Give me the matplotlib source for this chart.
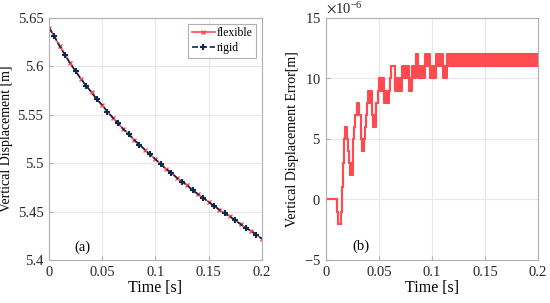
import numpy as np
import matplotlib
matplotlib.use('Agg')
import matplotlib.pyplot as plt

# time axis for panel (a), every 0.005 s
t_disp = [0.000, 0.005, 0.010, 0.015, 0.020, 0.025, 0.030, 0.035, 0.040, 0.045,
          0.050, 0.055, 0.060, 0.065, 0.070, 0.075, 0.080, 0.085, 0.090, 0.095,
          0.100, 0.105, 0.110, 0.115, 0.120, 0.125, 0.130, 0.135, 0.140, 0.145,
          0.150, 0.155, 0.160, 0.165, 0.170, 0.175, 0.180, 0.185, 0.190, 0.195,
          0.200]
# vertical displacement [m] (flexible and rigid differ only by ~1e-5 m)
disp_flexible = [5.640, 5.631, 5.621, 5.612, 5.603, 5.595, 5.587, 5.580, 5.573, 5.566,
                 5.560, 5.553, 5.547, 5.541, 5.535, 5.530, 5.524, 5.519, 5.514, 5.509,
                 5.504, 5.499, 5.494, 5.490, 5.485, 5.481, 5.477, 5.472, 5.468, 5.464,
                 5.460, 5.456, 5.452, 5.448, 5.445, 5.441, 5.437, 5.433, 5.430, 5.426,
                 5.422]
disp_rigid = disp_flexible

# panel (b): error trace as step segments (start time, lower, upper) in 1e-6 m
err_t = [0.0000, 0.0098, 0.0112, 0.0139, 0.0152, 0.0158, 0.0165, 0.0171, 0.0177,
         0.0200, 0.0210, 0.0218, 0.0224, 0.0250, 0.0256, 0.0265, 0.0275, 0.0288,
         0.0310, 0.0330, 0.0340, 0.0357, 0.0365, 0.0375, 0.0385, 0.0398, 0.0435,
         0.0446, 0.0468, 0.0475, 0.0488, 0.0500, 0.0547, 0.0593, 0.0605, 0.0615,
         0.0650, 0.0720, 0.0778, 0.0815, 0.0847, 0.0863, 0.0935, 0.0980, 0.1040,
         0.1106, 0.1140, 0.2000]
err_lo = [0, -1, -2, -1, 1, 3, 4, 5, 6,
          5, 4, 3, 2, 3, 5, 6, 7, 7,
          7, 5, 4, 5, 6, 7, 8, 8, 7,
          6, 7, 8, 9, 9, 8, 9, 10, 11,
          9, 10, 9, 10, 12, 10, 11, 10, 11,
          10, 11, 11]
err_hi = [0, -1, -2, -1, 1, 3, 4, 5, 6,
          5, 4, 3, 3, 3, 5, 6, 7, 8,
          7, 5, 4, 5, 6, 7, 8, 9, 7,
          7, 7, 8, 9, 10, 9, 9, 10, 11,
          10, 11, 10, 11, 12, 11, 12, 11, 12,
          11, 12, 12]

red = '#ff4a4f'
navy = '#0d2b4e'
gray = '#b0b0b0'

plt.rcParams['font.family'] = ['Liberation Serif', 'DejaVu Serif']
plt.rcParams['mathtext.fontset'] = 'stix'


def style_axes(ax):
    ax.grid(True, color='#e8e8e8', lw=0.8)
    ax.set_axisbelow(True)
    for s in ax.spines.values():
        s.set_color(gray)
        s.set_linewidth(0.8)
    ax.tick_params(direction='in', length=3, color=gray, labelsize=10.5,
                   labelcolor='#262626', top=False, right=False, pad=4)


fig = plt.figure(figsize=(5.5, 3.03), dpi=100)
ax1 = fig.add_axes([0.089, 0.142, 0.387, 0.799])
ax2 = fig.add_axes([0.593, 0.142, 0.385, 0.799])

# (a)
ax1.plot(t_disp, disp_flexible, '-', color=red, lw=1.2, marker='x', ms=3.5,
         markevery=(0, 2), label='flexible')
ax1.plot(t_disp, disp_rigid, '--', color=navy, lw=1.2, marker='+', ms=5,
         mew=1.5, markevery=(1, 2), label='rigid')
ax1.set_xlim(0, 0.2)
ax1.set_ylim(5.4, 5.65)
ax1.set_xticks([0, 0.05, 0.1, 0.15, 0.2])
ax1.set_xticklabels(['0', '0.05', '0.1', '0.15', '0.2'])
ax1.set_yticks([5.4, 5.45, 5.5, 5.55, 5.6, 5.65])
ax1.set_yticklabels(['5.4', '5.45', '5.5', '5.55', '5.6', '5.65'])
ax1.set_xlabel('Time [s]', fontsize=11.5, labelpad=1)
ax1.set_ylabel('Vertical Displacement [m]', fontsize=10, labelpad=3)
ax1.text(0.031, 5.413, '(a)', fontsize=10.5, ha='center', va='center')
style_axes(ax1)
leg = ax1.legend(loc='upper right', fontsize=8.5, handlelength=2.0,
                 handletextpad=0.1, borderpad=0.3, labelspacing=0.25,
                 borderaxespad=0.5, fancybox=False, framealpha=1)
leg.get_frame().set_edgecolor(gray)
leg.get_frame().set_linewidth(0.8)

# (b)
err_t_arr = np.array(err_t)
lo = np.array(err_lo) * 1e-6
hi = np.array(err_hi) * 1e-6
ax2.fill_between(err_t_arr, lo, hi, step='post', color=red, edgecolor=red,
                 lw=1.5)
ax2.set_xlim(0, 0.2)
ax2.set_ylim(-5e-6, 15e-6)
ax2.set_xticks([0, 0.05, 0.1, 0.15, 0.2])
ax2.set_xticklabels(['0', '0.05', '0.1', '0.15', '0.2'])
ax2.set_yticks([-5e-6, 0, 5e-6, 10e-6, 15e-6])
ax2.ticklabel_format(axis='y', style='sci', scilimits=(-6, -6), useMathText=True)
ax2.yaxis.get_offset_text().set_fontsize(10.5)
ax2.set_xlabel('Time [s]', fontsize=11.5, labelpad=1)
ax2.set_ylabel('Vertical Displacement Error[m]', fontsize=10, labelpad=3)
ax2.text(0.033, -3.9e-6, '(b)', fontsize=10.5, ha='center', va='center')
style_axes(ax2)

fig.savefig('out.png', dpi=100)
